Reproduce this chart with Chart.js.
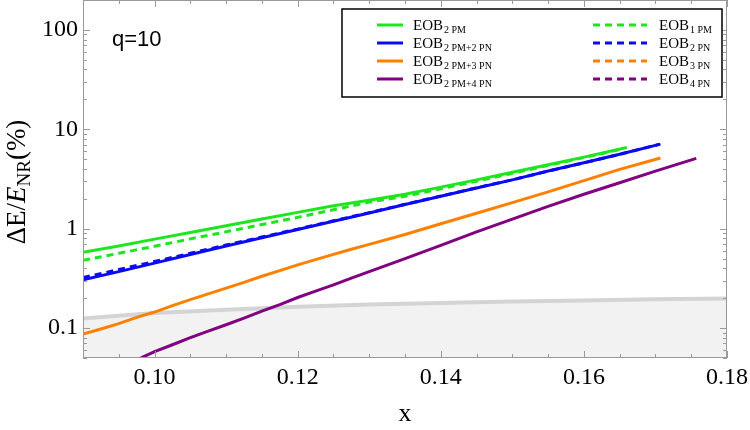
<!DOCTYPE html>
<html>
<head>
<meta charset="utf-8">
<script src="https://cdn.jsdelivr.net/npm/chart.js@4/dist/chart.umd.min.js"></script>
<style>
  html, body { margin: 0; padding: 0; background: #fff; }
  #wrap { width: 750px; height: 430px; position: relative; }
</style>
</head>
<body>
<div id="wrap"><canvas id="chart"></canvas></div>
<script>
// values (x, Delta E / E_NR in %)
const x2PM = [0.090, 0.095, 0.100, 0.105, 0.110, 0.115, 0.120, 0.125, 0.130, 0.135, 0.140, 0.145, 0.150, 0.155, 0.160, 0.166];
const eob2PM = [0.58, 0.67, 0.785, 0.915, 1.07, 1.25, 1.46, 1.70, 1.93, 2.22, 2.62, 3.1, 3.7, 4.4, 5.25, 6.55];

const x1PM = [0.090, 0.095, 0.100, 0.105, 0.110, 0.115, 0.120, 0.125, 0.130, 0.135, 0.140, 0.145, 0.150, 0.155, 0.160, 0.165];
const eob1PM = [0.48, 0.565, 0.665, 0.79, 0.93, 1.1, 1.3, 1.55, 1.85, 2.12, 2.52, 3.0, 3.6, 4.33, 5.2, 6.25];

const x2PM2PN = [0.090, 0.095, 0.100, 0.105, 0.110, 0.115, 0.120, 0.125, 0.130, 0.135, 0.140, 0.145, 0.150, 0.155, 0.160, 0.165, 0.1707];
const eob2PM2PN = [0.306, 0.37, 0.45, 0.55, 0.67, 0.81, 0.98, 1.19, 1.44, 1.75, 2.12, 2.57, 3.1, 3.8, 4.6, 5.6, 7.1];

const x2PN = [0.090, 0.095, 0.100, 0.105, 0.110, 0.115, 0.120, 0.125, 0.130, 0.135, 0.140, 0.145, 0.150, 0.155, 0.160, 0.165, 0.1705];
const eob2PN = [0.322, 0.388, 0.468, 0.565, 0.685, 0.825, 0.99, 1.2, 1.45, 1.76, 2.13, 2.58, 3.1, 3.8, 4.6, 5.6, 7.05];

const x2PM3PN = [0.090, 0.0925, 0.095, 0.0975, 0.100, 0.1025, 0.105, 0.1075, 0.110, 0.1125, 0.115, 0.1175, 0.120, 0.1225, 0.125, 0.1275, 0.130, 0.135, 0.140, 0.145, 0.150, 0.155, 0.160, 0.165, 0.1707];
const eob2PM3PN = [0.087, 0.098, 0.111, 0.128, 0.145, 0.168, 0.193, 0.221, 0.252, 0.288, 0.332, 0.378, 0.432, 0.488, 0.552, 0.622, 0.695, 0.875, 1.12, 1.43, 1.83, 2.35, 3.05, 3.95, 5.15];

const x2PM4PN = [0.097, 0.100, 0.1025, 0.105, 0.1075, 0.110, 0.1125, 0.115, 0.1175, 0.120, 0.1225, 0.125, 0.1275, 0.130, 0.135, 0.140, 0.145, 0.150, 0.155, 0.160, 0.165, 0.170, 0.1757];
const eob2PM4PN = [0.046, 0.058, 0.068, 0.080, 0.093, 0.108, 0.126, 0.148, 0.172, 0.203, 0.235, 0.272, 0.318, 0.37, 0.50, 0.68, 0.93, 1.25, 1.68, 2.22, 2.9, 3.8, 5.1];

// NR error band
const xNR = [0.09, 0.10, 0.11, 0.12, 0.13, 0.14, 0.15, 0.16, 0.17, 0.18];
const errNR = [0.125, 0.142, 0.153, 0.164, 0.173, 0.179, 0.185, 0.19, 0.195, 0.199];

const xLabels = [0.10, 0.12, 0.14, 0.16, 0.18];
const yLabels = [0.1, 1, 10, 100];

const GREEN = 'rgb(30,230,30)';
const BLUE = 'rgb(10,10,245)';
const ORANGE = 'rgb(255,128,0)';
const PURPLE = 'rgb(128,0,128)';

function pts(xs, ys) {
  return xs.map((x, i) => ({ x: x, y: ys[i] }));
}

function line(data, color, dashed, order) {
  return {
    data: data,
    borderColor: color,
    borderWidth: 3,
    borderDash: dashed ? [7, 5] : [],
    pointRadius: 0,
    tension: 0,
    fill: false,
    order: order
  };
}

const legendItems = [
  { col: 0, row: 0, color: GREEN, dash: false, sub: '2 PM' },
  { col: 0, row: 1, color: BLUE, dash: false, sub: '2 PM+2 PN' },
  { col: 0, row: 2, color: ORANGE, dash: false, sub: '2 PM+3 PN' },
  { col: 0, row: 3, color: PURPLE, dash: false, sub: '2 PM+4 PN' },
  { col: 1, row: 0, color: GREEN, dash: true, sub: '1 PM' },
  { col: 1, row: 1, color: BLUE, dash: true, sub: '2 PN' },
  { col: 1, row: 2, color: ORANGE, dash: true, sub: '3 PN' },
  { col: 1, row: 3, color: PURPLE, dash: true, sub: '4 PN' }
];

const decor = {
  id: 'decor',
  afterDraw(chart) {
    const ctx = chart.ctx;
    const a = chart.chartArea;
    const xs = chart.scales.x, ys = chart.scales.y;
    ctx.save();

    // frame
    ctx.strokeStyle = '#9a9a9a';
    ctx.lineWidth = 1;
    ctx.strokeRect(a.left + 0.5, a.top + 0.5, a.right - a.left - 1, a.bottom - a.top - 1);

    // inward ticks, x
    ctx.beginPath();
    for (let k = 18; k <= 36; k++) {
      const v = k * 0.005;
      const px = Math.round(xs.getPixelForValue(v)) + 0.5;
      const len = (k % 4 === 0) ? 7 : 4;
      ctx.moveTo(px, a.bottom); ctx.lineTo(px, a.bottom - len);
      ctx.moveTo(px, a.top); ctx.lineTo(px, a.top + len);
    }
    // inward ticks, y (log)
    for (let e = -2; e <= 2; e++) {
      for (let m = 1; m <= 9; m++) {
        const v = m * Math.pow(10, e);
        if (v < ys.min || v > ys.max) continue;
        const py = Math.round(ys.getPixelForValue(v)) + 0.5;
        const len = m === 1 ? 7 : 4;
        ctx.moveTo(a.left, py); ctx.lineTo(a.left + len, py);
        ctx.moveTo(a.right, py); ctx.lineTo(a.right - len, py);
      }
    }
    ctx.stroke();

    // q=10
    ctx.fillStyle = '#000';
    ctx.font = '22px "Liberation Sans", Arial, sans-serif';
    ctx.textBaseline = 'alphabetic';
    ctx.textAlign = 'left';
    ctx.fillText('q=10', 112, 46);

    // axis titles
    ctx.font = '26px "Liberation Serif", serif';
    ctx.textAlign = 'center';
    ctx.fillText('x', 405, 421);

    ctx.save();
    ctx.translate(25, 182);
    ctx.rotate(-Math.PI / 2);
    const parts = [
      { t: '\u0394E/', f: '27px "Liberation Serif", serif', dy: 0 },
      { t: 'E', f: 'italic 27px "Liberation Serif", serif', dy: 0 },
      { t: 'NR', f: '19px "Liberation Serif", serif', dy: 5 },
      { t: '(%)', f: '27px "Liberation Serif", serif', dy: 0 }
    ];
    let total = 0;
    parts.forEach(p => { ctx.font = p.f; p.w = ctx.measureText(p.t).width; total += p.w; });
    let cx = -total / 2;
    ctx.textAlign = 'left';
    parts.forEach(p => { ctx.font = p.f; ctx.fillText(p.t, cx, p.dy); cx += p.w; });
    ctx.restore();

    // legend box
    ctx.fillStyle = '#fff';
    ctx.fillRect(342, 9, 380, 88);
    ctx.strokeStyle = '#000';
    ctx.lineWidth = 1.5;
    ctx.strokeRect(342, 9, 380, 88);
    const rowsY = [25, 43, 61, 79];
    legendItems.forEach(it => {
      const y = rowsY[it.row];
      const x0 = it.col === 0 ? 377 : 593;
      const x1 = it.col === 0 ? 403 : 647;
      ctx.strokeStyle = it.color;
      ctx.lineWidth = 3;
      ctx.setLineDash(it.dash ? [7, 5] : []);
      ctx.beginPath(); ctx.moveTo(x0, y); ctx.lineTo(x1, y); ctx.stroke();
      ctx.setLineDash([]);
      const tx = it.col === 0 ? 413 : 659;
      ctx.fillStyle = '#000';
      ctx.textAlign = 'left';
      ctx.font = '15px "Liberation Serif", serif';
      ctx.fillText('EOB', tx, y + 5);
      const w = ctx.measureText('EOB').width;
      ctx.font = '10px "Liberation Serif", serif';
      ctx.fillText(it.sub, tx + w + 1, y + 8);
    });

    ctx.restore();
  }
};

new Chart(document.getElementById('chart'), {
  type: 'line',
  data: {
    datasets: [
      Object.assign(line(pts(xNR, errNR), '#d4d4d4', false, 3), { fill: 'start', backgroundColor: '#f2f2f2', borderWidth: 4 }),
      line(pts(x2PM, eob2PM), GREEN, false, 1),
      line(pts(x2PM2PN, eob2PM2PN), BLUE, false, 1),
      line(pts(x2PM3PN, eob2PM3PN), ORANGE, false, 1),
      line(pts(x2PM4PN, eob2PM4PN), PURPLE, false, 1),
      line(pts(x1PM, eob1PM), GREEN, true, 0),
      line(pts(x2PN, eob2PN), BLUE, true, 0)
    ]
  },
  options: {
    responsive: true,
    maintainAspectRatio: false,
    animation: false,
    layout: { padding: { top: 0, right: 23, left: 0, bottom: 0 } },
    plugins: { legend: { display: false }, tooltip: { enabled: false } },
    scales: {
      x: {
        type: 'linear',
        min: 0.09,
        max: 0.18,
        grid: { display: false, drawTicks: false },
        border: { display: false },
        afterFit: s => { s.height = 72; s.paddingLeft = 0; s.paddingRight = 0; },
        ticks: {
          stepSize: 0.01,
          autoSkip: false,
          maxRotation: 0,
          padding: 5,
          color: '#000',
          font: { family: '"Liberation Serif", serif', size: 24 },
          callback: v => xLabels.some(l => Math.abs(l - v) < 1e-6) ? v.toFixed(2) : null
        }
      },
      y: {
        type: 'logarithmic',
        min: 0.05,
        max: 200,
        grid: { display: false, drawTicks: false },
        border: { display: false },
        afterFit: s => { s.width = 83; s.paddingTop = 0; s.paddingBottom = 0; },
        ticks: {
          autoSkip: false,
          padding: 5,
          color: '#000',
          font: { family: '"Liberation Serif", serif', size: 24 },
          callback: v => yLabels.some(l => Math.abs(l - v) / l < 1e-6) ? String(v) : null
        }
      }
    }
  },
  plugins: [decor]
});
</script>
</body>
</html>
